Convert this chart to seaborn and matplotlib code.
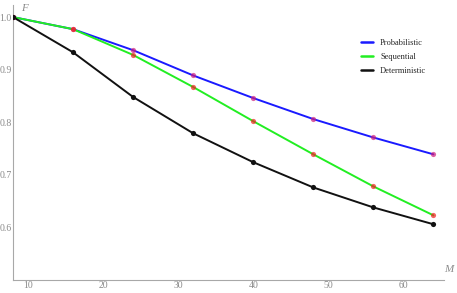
import pandas as pd
import seaborn as sns
import matplotlib.pyplot as plt
from matplotlib.ticker import MultipleLocator

# data
m_values = [8, 16, 24, 32, 40, 48, 56, 64]
probabilistic = [1.0, 0.977, 0.937, 0.889, 0.846, 0.806, 0.771, 0.739]
sequential = [1.0, 0.977, 0.928, 0.867, 0.802, 0.739, 0.678, 0.623]
deterministic = [1.0, 0.933, 0.848, 0.779, 0.724, 0.676, 0.638, 0.606]

series = {"Probabilistic": probabilistic, "Sequential": sequential, "Deterministic": deterministic}
df = pd.concat(
    [pd.DataFrame({"M": m_values, "F": vals, "scheme": name}) for name, vals in series.items()],
    ignore_index=True,
)

sns.set_theme(style="white")
plt.rcParams["font.family"] = ["Liberation Serif", "DejaVu Serif"]

grey = "#a8a8a8"
palette = {"Probabilistic": "#1a1aff", "Sequential": "#22ee22", "Deterministic": "#111111"}
marker_colors = {"Probabilistic": "#d0207a", "Sequential": "#f02020", "Deterministic": "#111111"}

fig = plt.figure(figsize=(4.57, 2.93), dpi=100)
ax = fig.add_axes([0.0284, 0.0444, 0.943, 0.9386])

sns.lineplot(data=df, x="M", y="F", hue="scheme", palette=palette, linewidth=1.4, ax=ax)
for name in series:
    sub = df[df["scheme"] == name]
    alpha = 1.0 if name == "Deterministic" else 0.7
    sns.scatterplot(data=sub, x="M", y="F", color=marker_colors[name], s=14, alpha=alpha,
                    linewidth=0, ax=ax, legend=False, zorder=3)

ax.set_xlim(8, 65.4)
ax.set_ylim(0.5, 1.023)
ax.xaxis.set_major_locator(MultipleLocator(10))
ax.xaxis.set_minor_locator(MultipleLocator(2))
ax.yaxis.set_minor_locator(MultipleLocator(0.02))
ax.set_yticks([0.6, 0.7, 0.8, 0.9, 1.0])
ax.set_yticklabels(["0.6", "0.7", "0.8", "0.9", "1.0"])

for side in ["top", "right"]:
    ax.spines[side].set_visible(False)
for side in ["left", "bottom"]:
    ax.spines[side].set_color(grey)
    ax.spines[side].set_linewidth(0.8)
ax.tick_params(which="both", direction="in", color=grey, labelcolor="#8a8a8a", labelsize=7, pad=1)
ax.tick_params(which="major", length=4, width=0.7)
ax.tick_params(which="minor", length=2, width=0.6)
ax.set_xlabel("")
ax.set_ylabel("")

fig.text(0.054, 0.985, "F", ha="center", va="top", style="italic", color="#8a8a8a", fontsize=8)
fig.text(0.983, 0.08, "M", ha="center", va="center", style="italic", color="#8a8a8a", fontsize=8)

leg = ax.legend(loc="upper left", bbox_to_anchor=(0.79, 0.905), frameon=False, fontsize=6,
                handlelength=1.5, labelspacing=0.75, title=None)
for line in leg.get_lines():
    line.set_linewidth(1.8)

fig.savefig("out.png", dpi=100)
